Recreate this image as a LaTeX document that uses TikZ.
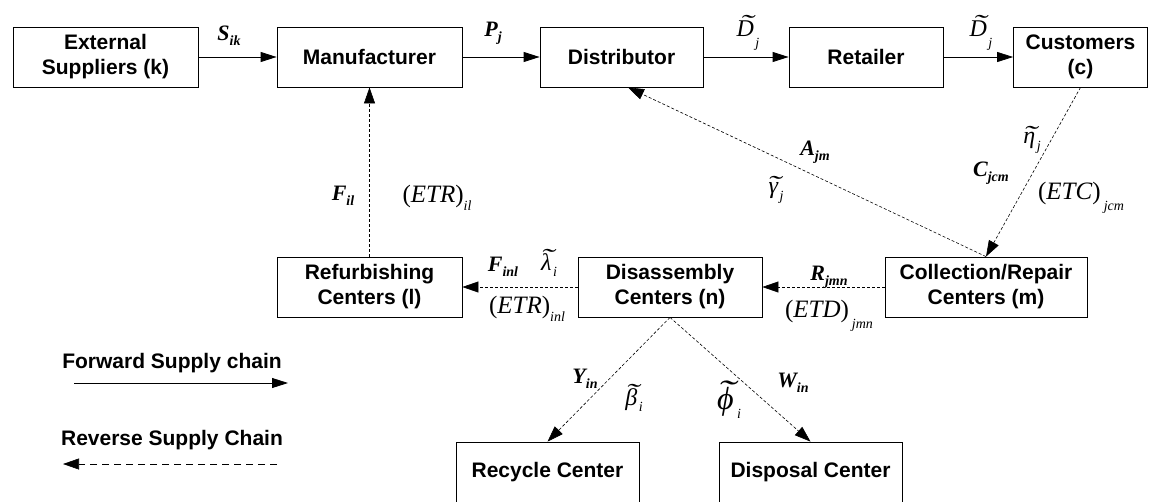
\documentclass[tikz,border=0pt]{standalone}
\usepackage{fontspec}
\usepackage{graphicx}
\setmainfont{Liberation Serif}
\newfontfamily\arialfont{Liberation Sans}
\usetikzlibrary{arrows.meta,calc}

\newcommand\fs[1]{\fontsize{#1}{#1}\selectfont}
% bold italic variable with a lowered index
\newcommand\bvar[2]{{\bfseries\itshape #1\raisebox{-0.22em}{\fs{14}#2}}}
% letter with a wide tilde above it: #1 raise, #2 shift, #3 letter
\newbox\tlbox
\newcommand\tld[3]{\leavevmode\setbox\tlbox\hbox{#3}%
  \rlap{\hbox to\wd\tlbox{\hss\kern#2\raisebox{#1}{\scalebox{1.7}[1]{\char"02DC}}\hss}}\box\tlbox}
% tilde variable with a lowered, spaced index
\newcommand\tvar[5]{{\itshape\tld{#1}{#2}{#3}\kern1.5pt\raisebox{#5}{\fs{14}#4}}}
% expression in parentheses with a lowered index
\newcommand\pvar[3]{{\fs{25}(\textit{#1})\raisebox{#3}{\fs{14}\itshape #2}}}

\begin{document}
\begin{tikzpicture}[x=1pt,y=-1pt,
  box/.style={draw, line width=0.8pt, align=center, inner sep=0pt,
    minimum height=60pt, font=\arialfont\bfseries\fontsize{21}{25}\selectfont},
  fwd/.style={draw, line width=0.8pt, -{Triangle[length=16pt,width=10pt]}},
  rev/.style={draw, line width=0.6pt, dash pattern=on 3pt off 2pt,
    -{Triangle[length=16pt,width=11pt]}},
  legrev/.style={draw, line width=0.6pt, dash pattern=on 7pt off 5pt,
    -{Triangle[length=16pt,width=11pt]}},
  lab/.style={inner sep=0pt, font=\fs{22}},
  tlab/.style={inner sep=0pt, font=\fs{24}},
  legtext/.style={inner sep=0pt, font=\arialfont\bfseries\fs{21}}]
\useasboundingbox (0,0) rectangle (1150,501);

% forward chain
\node[box, minimum width=185pt] (ext)  at (105.5,57) {External\\Suppliers (k)};
\node[box, minimum width=185pt] (man)  at (369.5,57) {Manufacturer};
\node[box, minimum width=163pt] (dist) at (621.5,57) {Distributor};
\node[box, minimum width=154pt] (ret)  at (866,57)   {Retailer};
\node[box, minimum width=134pt] (cust) at (1080.5,57) {Customers\\(c)};

% reverse chain
\node[box, minimum width=185pt] (ref)  at (369.5,287) {Refurbishing\\Centers (l)};
\node[box, minimum width=184pt] (dis)  at (670,287)   {Disassembly\\Centers (n)};
\node[box, minimum width=202pt] (col)  at (986,287)   {Collection/Repair\\Centers (m)};
\node[box, minimum width=183pt] (rec)  at (547.5,472) {Recycle Center};
\node[box, minimum width=183pt] (disp) at (810.5,472) {Disposal Center};

% forward flows
\draw[fwd] (ext) -- (man);
\draw[fwd] (man) -- (dist);
\draw[fwd] (dist) -- (ret);
\draw[fwd] (ret) -- (cust);

% reverse flows
\draw[rev] (cust.south) -- (col.north);
\draw[rev] (col.north) -- ($(dist.south)+(6.5,0)$);
\draw[rev] (col) -- (dis);
\draw[rev] (dis) -- (ref);
\draw[rev] (ref) -- (man);
\draw[rev] (dis.south) -- (rec.north);
\draw[rev] (dis.south) -- (disp.north);

% flow labels
\node[lab]  (lS)  at (229,36)  {\bvar{S}{ik}};
\node[lab]  (lP)  at (493,33)  {\bvar{P}{j}};
\node[tlab] (lD1) at (748,33)  {\tvar{0.2em}{2pt}{D}{j}{-0.45em}};
\node[tlab] (lD2) at (981,33)  {\tvar{0.2em}{2pt}{D}{j}{-0.45em}};
\node[tlab] (leta) at (1032,140) {\tvar{0.06em}{1pt}{η}{j}{-0.3em}};
\node[lab]  (lC)  at (991,173) {\bvar{C}{jcm}};
\node[lab]  (lETC) at (1081,198) {\pvar{ETC}{\kern3pt jcm}{-0.45em}};
\node[lab]  (lA)  at (815,152) {\bvar{A}{jm}};
\node[tlab] (lgam) at (776,190) {\tvar{0.06em}{1pt}{γ}{j}{-0.3em}};
\node[lab]  (lFil) at (343,196) {\bvar{F}{il}};
\node[lab]  (lETRil) at (437,198) {\pvar{ETR}{il}{-0.3em}};
\node[lab]  (lFinl) at (503,267) {\bvar{F}{inl}};
\node[tlab] (llam) at (549,263) {\tvar{0.2em}{1.5pt}{λ}{i}{-0.25em}};
\node[lab]  (lETRinl) at (527,309) {\pvar{ETR}{inl}{-0.3em}};
\node[lab]  (lR)  at (829,277) {\bvar{R}{jmn}};
\node[lab]  (lETD) at (829,316) {\pvar{ETD}{\kern3pt jmn}{-0.45em}};
\node[lab]  (lY)  at (585,379) {\bvar{Y}{in}};
\node[tlab] (lbet) at (634,398) {\tvar{0.2em}{1.5pt}{β}{i}{-0.25em}};
\node[inner sep=0pt, font=\fs{32}] (lphi) at (729,400) {\tvar{0.2em}{1.5pt}{ϕ}{\kern2pt i}{-0.3em}};
\node[lab]  (lW)  at (793,383) {\bvar{W}{in}};

% legend
\node[legtext] (legF) at (172,363) {Forward Supply chain};
\coordinate (fa) at (74,383);
\coordinate (fb) at (288,383);
\draw[fwd] (fa) -- (fb);
\node[legtext] (legR) at (172,440) {Reverse Supply Chain};
\coordinate (ra) at (277,464);
\coordinate (rb) at (63,464);
\draw[legrev] (ra) -- (rb);
\end{tikzpicture}
\end{document}
